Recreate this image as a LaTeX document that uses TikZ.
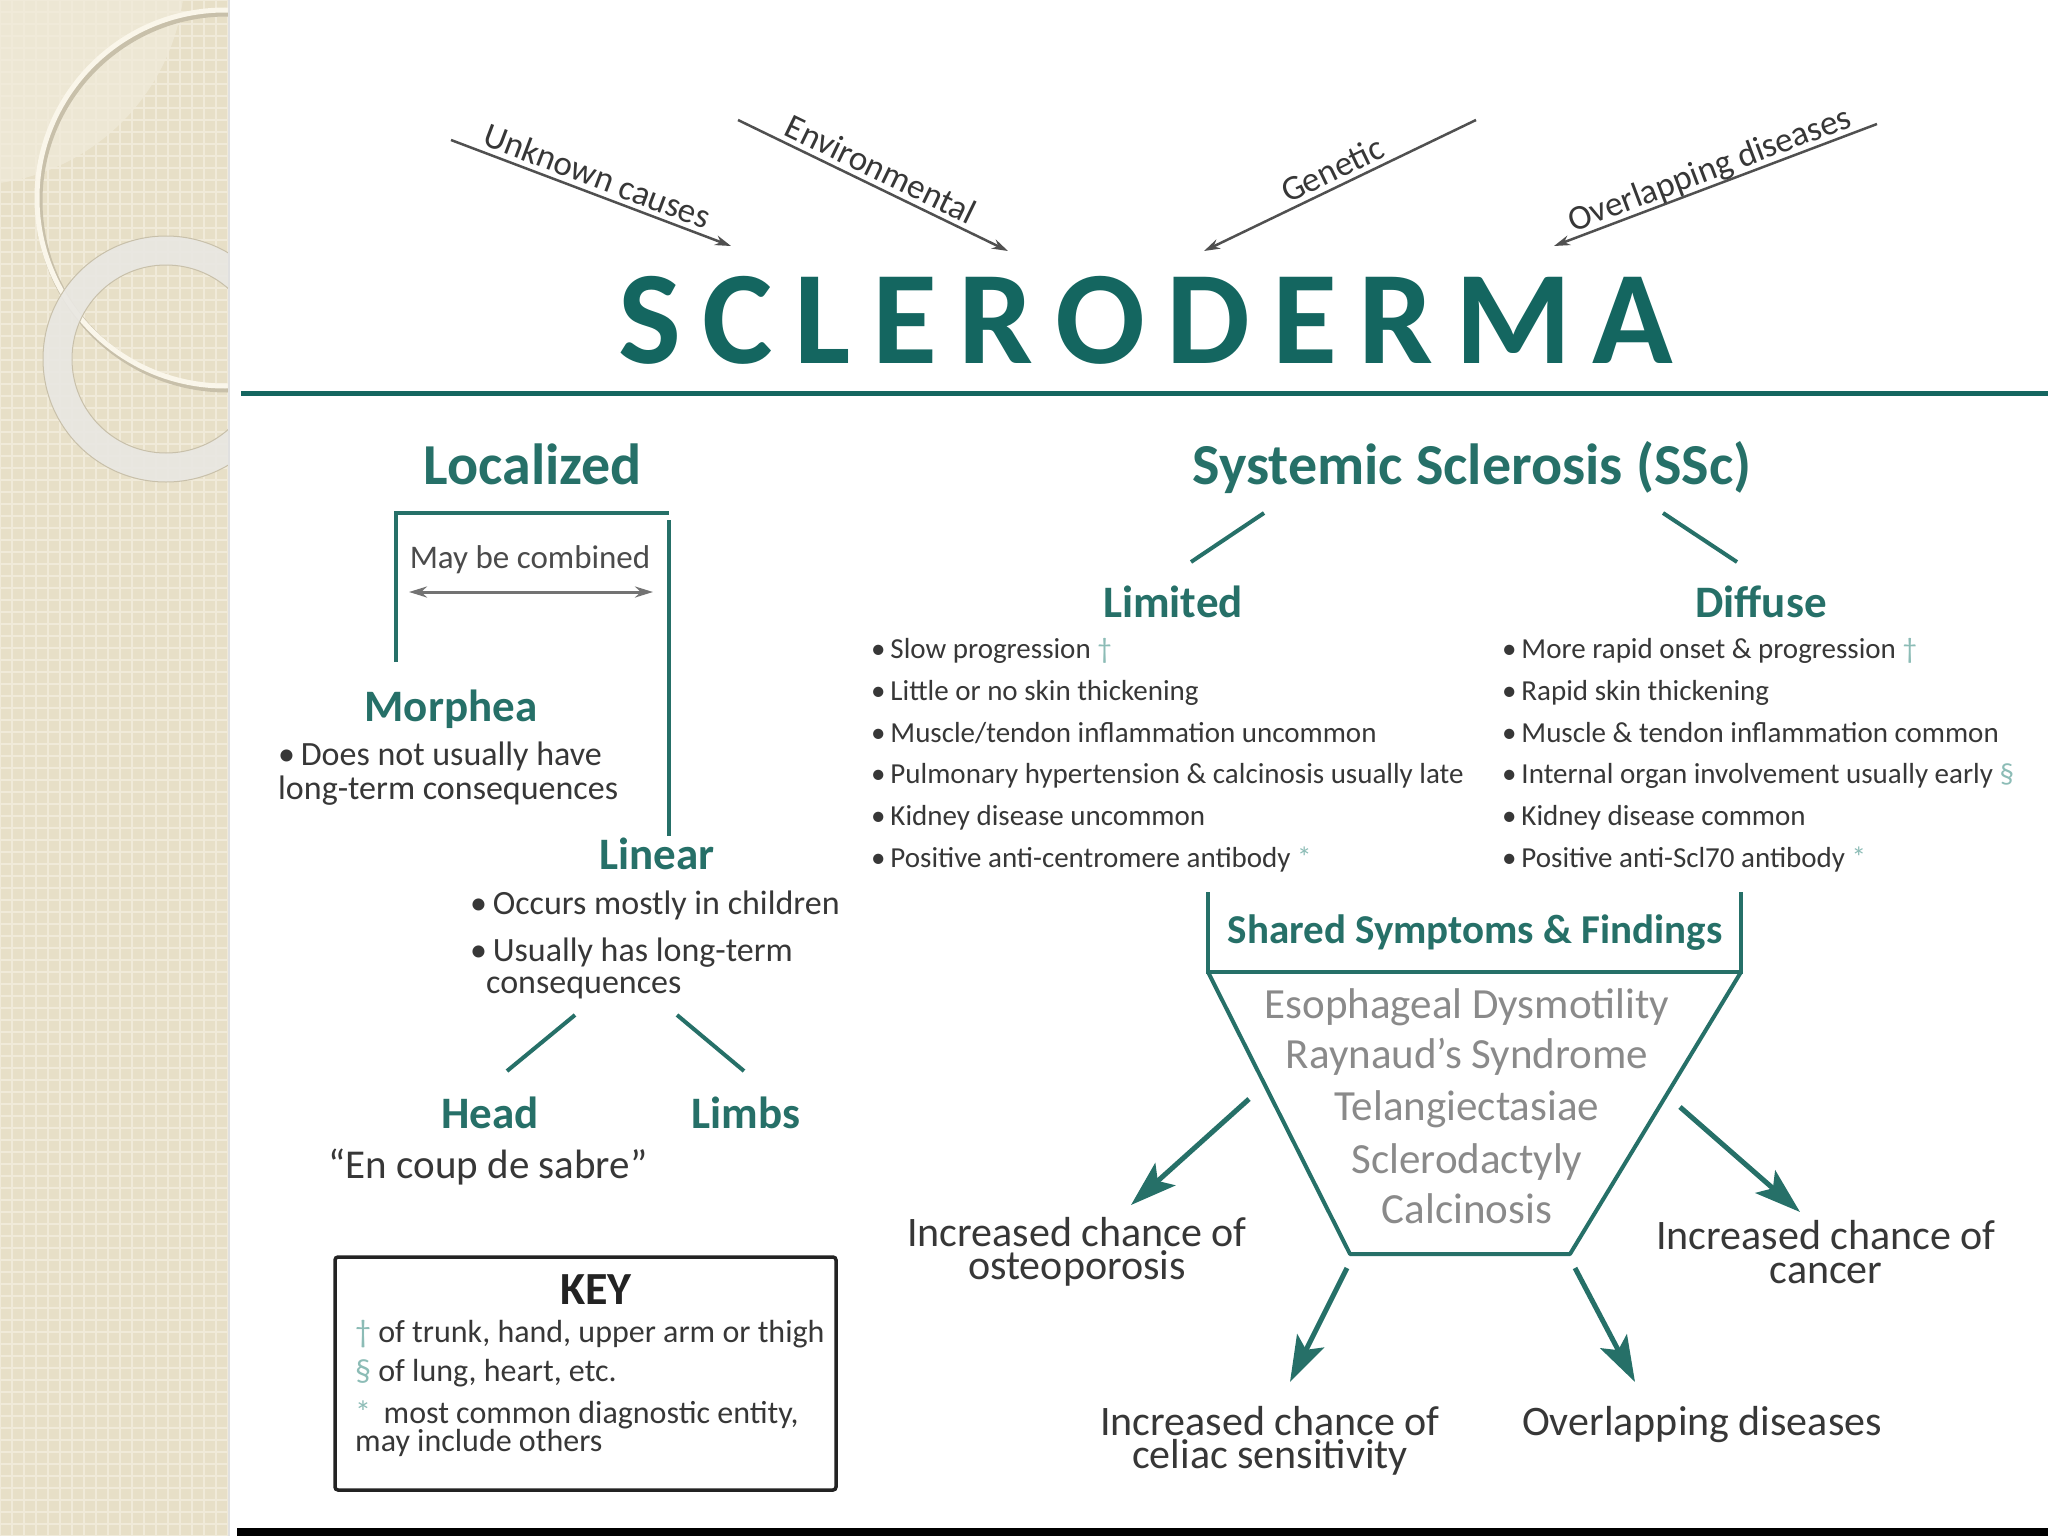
\documentclass[tikz,border=0pt]{standalone}
\usepackage{fontspec}
\setmainfont{Carlito}
\usetikzlibrary{arrows.meta}
\definecolor{teal1}{RGB}{38,112,104}
\definecolor{titlec}{RGB}{20,102,96}
\definecolor{txt}{RGB}{55,55,55}
\definecolor{lgray}{RGB}{138,138,138}
\definecolor{symc}{RGB}{140,188,182}
\definecolor{beige}{RGB}{231,223,199}
\definecolor{beigel}{RGB}{240,234,217}
\definecolor{arrowg}{RGB}{80,80,80}
\definecolor{ringc}{RGB}{233,231,226}
\definecolor{ringe}{RGB}{200,192,170}
\definecolor{cream}{RGB}{250,246,234}
\definecolor{keyc}{RGB}{35,35,35}
\newcommand{\myfs}[1]{\fontsize{#1}{#1}\selectfont}
\tikzset{
  titlest/.style={inner sep=0pt, anchor=base, font=\myfs{133}\bfseries, text=titlec},
  hd/.style={inner sep=0pt, text height=37.4pt, text depth=0pt, font=\myfs{58}\bfseries, text=teal1},
  sub/.style={inner sep=0pt, text height=29pt, text depth=0pt, font=\myfs{45}\bfseries, text=teal1},
  shd/.style={inner sep=0pt, text height=26.4pt, text depth=0pt, font=\myfs{41}\bfseries, text=teal1},
  body/.style={inner sep=0pt, text height=21.9pt, text depth=0pt, font=\myfs{34}, text=txt, anchor=west},
  bul/.style={inner sep=0pt, text height=18.7pt, text depth=0pt, font=\myfs{29}, text=txt, anchor=west},
  glist/.style={inner sep=0pt, text height=27.7pt, text depth=0pt, font=\myfs{43}, text=lgray},
  outc/.style={inner sep=0pt, text height=27pt, text depth=0pt, font=\myfs{42}, text=txt},
  keyt/.style={inner sep=0pt, text height=20.6pt, text depth=0pt, font=\myfs{32}, text=txt, anchor=west},
  cause/.style={inner sep=0pt, text height=22.5pt, text depth=0pt, font=\myfs{35}, text=txt},
  causearrow/.style={arrowg, line width=2.5pt, -{Stealth[length=16pt,width=10pt]}},
  tline/.style={teal1, line width=4pt},
  tarrow/.style={teal1, line width=5pt, -{Stealth[length=46pt,width=30pt,inset=10pt]}},
  combarrow/.style={arrowg!80, line width=3pt, {Stealth[length=18pt,width=11pt]}-{Stealth[length=18pt,width=11pt]}},
}
\newcommand{\sym}[1]{\textcolor{symc}{#1}}
\begin{document}
\begin{tikzpicture}[x=1pt,y=-1pt]
\useasboundingbox (0,0) rectangle (2048,1536);
\fill[white] (0,0) rectangle (2048,1536);
% decorative strip
\begin{scope}
\clip (0,0) rectangle (228,1536);
\fill[beige] (0,0) rectangle (228,1536);
\draw[beigel, line width=1.6pt, step=12pt] (0,0) grid (240,1548);
\fill[beigel, opacity=0.75] (-30,-30) circle[radius=215];
\draw[ringe, line width=7pt] (227,201) circle[radius=188];
\draw[cream, line width=5pt] (225,198) circle[radius=188];
\fill[ringc, opacity=0.92, even odd rule] (166,359) circle[radius=123] (166,359) circle[radius=94];
\draw[ringe, line width=1pt] (166,359) circle[radius=123] (166,359) circle[radius=94];
\end{scope}
\fill[black!12] (228,0) rectangle (230,1536);

% title
\node[titlest] (title) at (1146,363) {\makebox[1055pt][s]{S\hfill C\hfill L\hfill E\hfill R\hfill O\hfill D\hfill E\hfill R\hfill M\hfill A}};
\draw[titlec, line width=5pt] (241,393) -- (2048,393);

% causes
\coordinate (uc1) at (451,140); \coordinate (uc2) at (731,246);
\coordinate (en1) at (738,120); \coordinate (en2) at (1008,251);
\coordinate (ge1) at (1476,120); \coordinate (ge2) at (1204,251);
\coordinate (od1) at (1877,124); \coordinate (od2) at (1554,246);
\draw[causearrow] (uc1) -- node[cause, sloped, above=5pt] (ucl) {Unknown causes} (uc2);
\draw[causearrow] (en1) -- node[cause, sloped, above=5pt] (enl) {Environmental} (en2);
\draw[causearrow] (ge1) -- node[cause, sloped, above=5pt] (gel) {Genetic} (ge2);
\draw[causearrow] (od1) -- node[cause, sloped, above=5pt] (odl) {Overlapping diseases} (od2);

% Localized
\node[hd] (loc) at (533,466) {Localized};
\draw[tline] (396,662) -- (396,513) -- (669,513);
\draw[tline] (669,520) -- (669,836);
\node[inner sep=0pt, text height=21pt, text depth=0pt, font=\myfs{33}, text=txt!90] (maybe) at (530,558) {May be combined};
\coordinate (cb1) at (409,592); \coordinate (cb2) at (653,592);
\draw[combarrow] (cb1) -- (cb2);
\node[sub] (morph) at (451,707) {Morphea};
\node[body] (m1) at (278,755) {•\,Does not usually have};
\node[body] (m2) at (278,789) {long-term consequences};
\node[sub] (linear) at (657,855) {Linear};
\node[body] (l1) at (470,904) {•\,Occurs mostly in children};
\node[body] (l2) at (470,951) {•\,Usually has long-term};
\node[body] (l3) at (486,983) {consequences};
\coordinate (hl1) at (575,1015); \coordinate (hl2) at (507,1071);
\coordinate (ll1) at (677,1015); \coordinate (ll2) at (744,1071);
\draw[tline] (hl1) -- (hl2);
\draw[tline] (ll1) -- (ll2);
\node[sub] (head) at (490,1114) {Head};
\node[sub] (limbs) at (746,1114) {Limbs};
\node[inner sep=0pt, text height=26.4pt, text depth=0pt, font=\myfs{41}, text=txt] (sabre) at (488,1165) {“En coup de sabre”};

% key
\draw[keyc, line width=3.5pt, rounded corners=3pt] (335,1257) rectangle (836,1490);
\node[inner sep=0pt, text height=29.6pt, text depth=0pt, font=\myfs{46}\bfseries, text=keyc] (keyh) at (596,1290) {KEY};
\node[keyt] (k1) at (355,1332) {\sym{†} of trunk, hand, upper arm or thigh};
\node[keyt] (k2) at (355,1371) {\sym{§} of lung, heart, etc.};
\node[keyt] (k3) at (355,1413) {\sym{*}\, most common diagnostic entity,};
\node[keyt] (k4) at (355,1441) {may include others};

% Systemic sclerosis
\node[hd] (ssc) at (1472,466) {Systemic Sclerosis (SSc)};
\coordinate (s1a) at (1264,513); \coordinate (s1b) at (1191,562);
\coordinate (s2a) at (1663,513); \coordinate (s2b) at (1737,562);
\draw[tline] (s1a) -- (s1b);
\draw[tline] (s2a) -- (s2b);
\node[sub] (limited) at (1173,603) {Limited};
\node[sub] (diffuse) at (1761,603) {Diffuse};
\node[bul] (a1) at (871,649) {•\,Slow progression \sym{†}};
\node[bul] (a2) at (871,691) {•\,Little or no skin thickening};
\node[bul] (a3) at (871,733) {•\,Muscle/tendon inflammation uncommon};
\node[bul] (a4) at (871,774) {•\,Pulmonary hypertension \& calcinosis usually late};
\node[bul] (a5) at (871,816) {•\,Kidney disease uncommon};
\node[bul] (a6) at (871,858) {•\,Positive anti-centromere antibody \sym{*}};
\node[bul] (b1) at (1502,649) {•\,More rapid onset \& progression \sym{†}};
\node[bul] (b2) at (1502,691) {•\,Rapid skin thickening};
\node[bul] (b3) at (1502,733) {•\,Muscle \& tendon inflammation common};
\node[bul] (b4) at (1502,774) {•\,Internal organ involvement usually early \sym{§}};
\node[bul] (b5) at (1502,816) {•\,Kidney disease common};
\node[bul] (b6) at (1502,858) {•\,Positive anti-Scl70 antibody \sym{*}};

% shared symptoms funnel
\draw[tline] (1208,892) -- (1208,972) -- (1741,972) -- (1741,892);
\draw[tline, line join=round] (1208,972) -- (1350,1254) -- (1570,1254) -- (1741,972);
\node[shd] (shared) at (1475,930) {Shared Symptoms \& Findings};
\node[glist] (g1) at (1467,1005) {Esophageal Dysmotility};
\node[glist] (g2) at (1467,1055) {Raynaud’s Syndrome};
\node[glist] (g3) at (1467,1107) {Telangiectasiae};
\node[glist] (g4) at (1467,1160) {Sclerodactyly};
\node[glist] (g5) at (1467,1210) {Calcinosis};

% outcomes
\node[outc] (o1a) at (1077,1233) {Increased chance of};
\node[outc] (o1b) at (1077,1266) {osteoporosis};
\node[outc] (o2a) at (1826,1236) {Increased chance of};
\node[outc] (o2b) at (1826,1270) {cancer};
\node[outc] (o3a) at (1270,1422) {Increased chance of};
\node[outc] (o3b) at (1270,1455) {celiac sensitivity};
\node[outc] (o4) at (1702,1422) {Overlapping diseases};
\coordinate (t1) at (1249,1099); \coordinate (t2) at (1680,1107);
\coordinate (t3) at (1347,1268); \coordinate (t4) at (1575,1268);
\draw[tarrow] (t1) -- (1131,1205) coordinate (h1);
\draw[tarrow] (t2) -- (1800,1212) coordinate (h2);
\draw[tarrow] (t3) -- (1290,1382) coordinate (h3);
\draw[tarrow] (t4) -- (1635,1382) coordinate (h4);

% bottom bar
\fill[black] (237,1528) rectangle (2048,1536);
\end{tikzpicture}
\end{document}
